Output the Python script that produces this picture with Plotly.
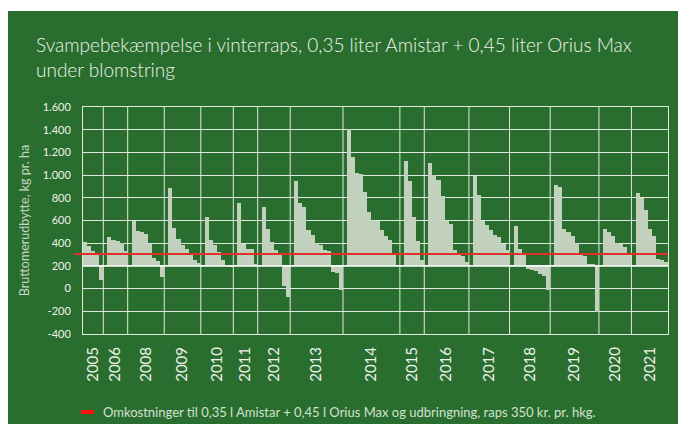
import plotly.graph_objects as go

# ---------------- data ----------------
YEARS = ["2005", "2006", "2008", "2009", "2010", "2011", "2012", "2013",
         "2014", "2015", "2016", "2017", "2018", "2019", "2020", "2021"]

# gross yield increase (kg/ha) per trial, grouped by year; None = empty slot
Y2005 = [415, 371, 327, 300, 80]
Y2006 = [None, 459, 425, 418, 400, 327]
Y2008 = [None, 594, 510, 503, 485, 394, 268, 245, 100]
Y2009 = [None, 882, 538, 441, 385, 350, 300, 255, 222]
Y2010 = [None, 635, 432, 382, 324, 250, 206, 186]
Y2011 = [None, 756, 395, 353, 353, 212]
Y2012 = [None, 721, 529, 415, 344, 295, 19, -76]
Y2013 = [None, 944, 758, 723, 520, 476, 406, 381, 344, 327, 146, 135, -8]
Y2014 = [None, 1410, 1163, 1022, 1013, 855, 679, 600, 597, 518, 466, 431, 305, None]
Y2015 = [None, 1128, 952, 635, 423, 248]
Y2016 = [None, 1111, 1005, 961, 820, 596, 573, 344, 309, 283, 238]
Y2017 = [None, 995, 829, 600, 556, 512, 476, 458, 390, 336]
Y2018 = [None, 548, 353, 300, 170, 161, 152, 128, 109, -10]
Y2019 = [None, 916, 899, 529, 503, 467, 406, 300, 291, 221, 212, -210]
Y2020 = [None, 529, 503, 467, 406, 390, 370, 300]
Y2021 = [None, 846, 798, 696, 529, 467, 265, 256, 238]

GROUPS = [Y2005, Y2006, Y2008, Y2009, Y2010, Y2011, Y2012, Y2013,
          Y2014, Y2015, Y2016, Y2017, Y2018, Y2019, Y2020, Y2021]

AXIS_CROSS = 200        # category axis crosses value axis here
COST = 305              # cost line, kg/ha
Y_TICKS = [-400, -200, 0, 200, 400, 600, 800, 1000, 1200, 1400, 1600]
Y_TICK_TEXT = ["-400", "-200", "0", "200", "400", "600", "800",
               "1.000", "1.200", "1.400", "1.600"]

TITLE = ("Svampebekæmpelse i vinterraps, 0,35 liter Amistar + 0,45 liter Orius Max"
         "<br>under blomstring")
Y_TITLE = "Bruttomerudbytte, kg pr. ha"
LEGEND_TEXT = ("Omkostninger til 0,35 l Amistar + 0,45 l Orius Max og udbringning, "
               "raps 350 kr. pr. hkg.")

# ---------------- build positions ----------------
xs, ys = [], []
centers, bounds = [], []
pos = 0
for g in GROUPS:
    start = pos
    for v in g:
        xs.append(pos)
        ys.append(None if v is None else v - AXIS_CROSS)
        pos += 1
    centers.append((start + pos - 1) / 2)
    bounds.append(pos - 0.5)
n_slots = pos

GREEN = "#296e2e"
BAR = "#c2d1bd"
GRID = "rgba(255,255,255,0.85)"
TXT = "#eef3ec"
FONT = "Lato"

fig = go.Figure()
fig.add_trace(go.Bar(x=xs, y=ys, base=AXIS_CROSS, marker=dict(color=BAR, line=dict(width=0)),
                     width=1.0, showlegend=False, hoverinfo="skip"))

fig.update_layout(
    width=678, height=424,
    margin=dict(l=83, r=10, t=107, b=90, autoexpand=False),
    paper_bgcolor="white",
    plot_bgcolor="rgba(0,0,0,0)",
    bargap=0,
    showlegend=False,
    title=dict(text=TITLE, x=36 / 678, xref="container", xanchor="left",
               y=1 - 52 / 424, yref="container", yanchor="top",
               font=dict(family=FONT, size=19, color=TXT, weight=300)),
    xaxis=dict(range=[-0.5, n_slots - 0.5], tickmode="array", tickvals=centers,
               ticktext=YEARS, tickangle=-90, showgrid=False, zeroline=False,
               automargin=False,
               ticks="outside", ticklen=6, tickcolor="rgba(0,0,0,0)",
               tickfont=dict(family=FONT, size=15, color=TXT),
               showline=True, linecolor=GRID, linewidth=1, mirror=True),
    yaxis=dict(range=[-400, 1600], tickmode="array", tickvals=Y_TICKS, ticktext=Y_TICK_TEXT,
               showgrid=True, gridcolor=GRID, gridwidth=1, zeroline=False,
               automargin=False,
               ticks="outside", ticklen=9, tickcolor="rgba(0,0,0,0)",
               tickfont=dict(family=FONT, size=11, color=TXT),
               showline=True, linecolor=GRID, linewidth=1, mirror=True,
               title=dict(text=Y_TITLE, standoff=10,
                          font=dict(family=FONT, size=12.5, color="#c6d6c2"))),
)

# green panel behind everything
fig.add_shape(type="rect", xref="paper", yref="paper",
              x0=(8 - 83) / 585, x1=(678 - 83) / 585,
              y0=(334 - 424) / 227, y1=(334 - 11) / 227,
              fillcolor=GREEN, line=dict(width=0), layer="below")
# vertical grid lines between year groups
for b in bounds[:-1]:
    fig.add_shape(type="line", xref="x", yref="y", x0=b, x1=b, y0=-400, y1=1600,
                  line=dict(color=GRID, width=1), layer="below")
# category axis line at crossing value
fig.add_shape(type="line", xref="paper", yref="y", x0=0, x1=1,
              y0=AXIS_CROSS, y1=AXIS_CROSS, line=dict(color="white", width=1.5), layer="above")
# cost line
fig.add_shape(type="line", xref="paper", yref="y", x0=(74 - 83) / 585, x1=1,
              y0=COST, y1=COST, line=dict(color="#e0302a", width=2), layer="above")
# legend
fig.add_shape(type="line", xref="paper", yref="paper",
              x0=(81 - 83) / 585, x1=(94 - 83) / 585,
              y0=(334 - 412) / 227, y1=(334 - 412) / 227,
              line=dict(color="#ff1010", width=4))
fig.add_annotation(text=LEGEND_TEXT, xref="paper", yref="paper",
                   x=(101 - 83) / 585, y=(334 - 412) / 227, xanchor="left", yanchor="middle",
                   showarrow=False, font=dict(family=FONT, size=13, color="#d4e0d1"))

fig.write_html("out.html", post_script="document.body.style.margin='0';",
               config={"displayModeBar": False})
